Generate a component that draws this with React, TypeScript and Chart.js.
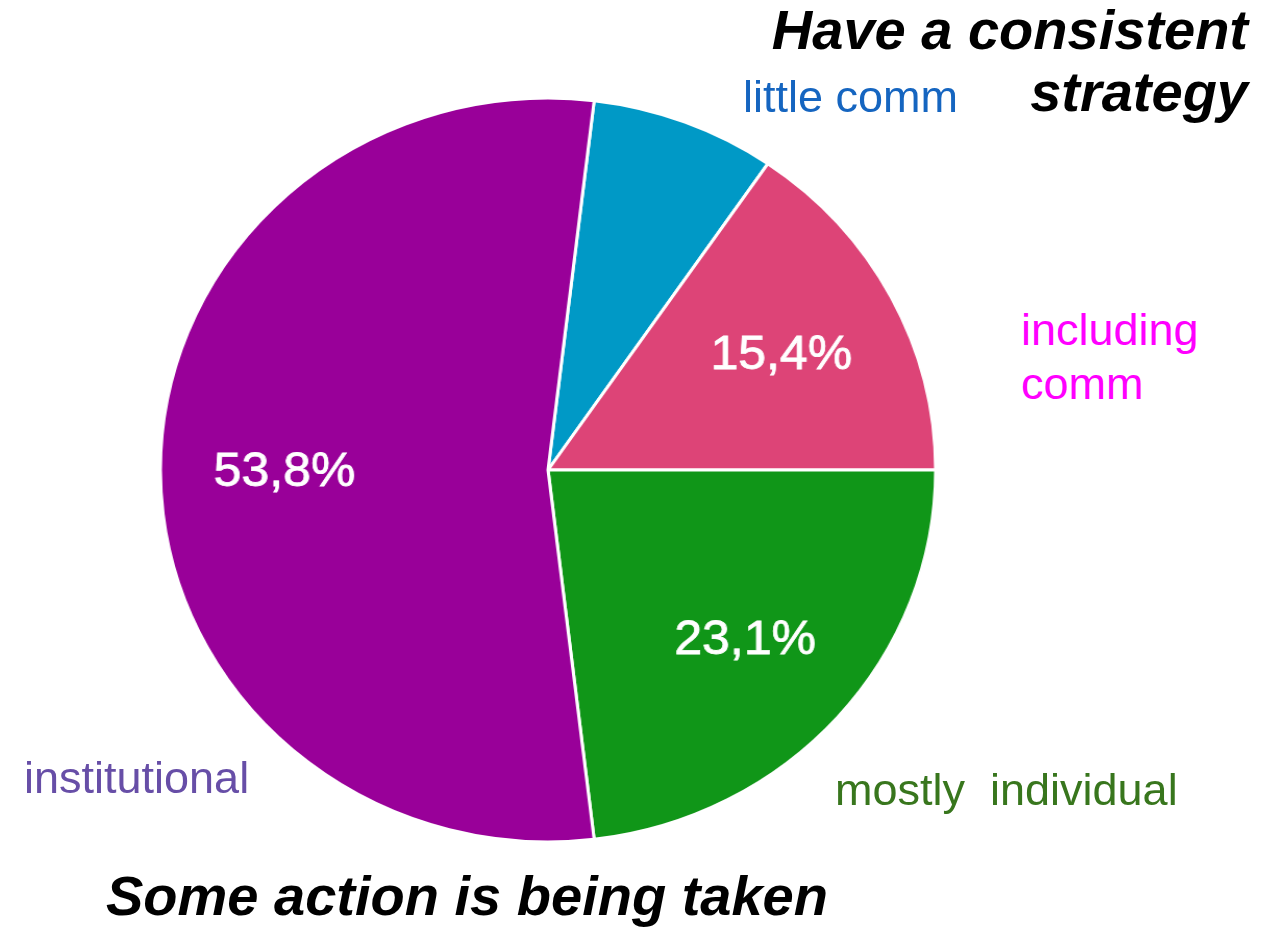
import React, { useEffect, useRef } from "react";
import { Chart, registerables } from "chart.js";

Chart.register(...registerables);

const categories = ["little comm", "including comm", "mostly  individual", "institutional"];
const shares = [7.7, 15.4, 23.1, 53.8];
const sliceColors = ["#0099c6", "#dd4477", "#109618", "#990099"];

const FONT = "'Liberation Sans', Arial, sans-serif";

const percentLabels = {
  id: "percentLabels",
  afterDatasetsDraw(chart: any) {
    const ctx = chart.ctx;
    const meta = chart.getDatasetMeta(0);
    const data = chart.data.datasets[0].data as number[];
    ctx.save();
    ctx.fillStyle = "#ffffff";
    ctx.strokeStyle = "#ffffff";
    ctx.lineWidth = 0.8;
    ctx.font = `48px ${FONT}`;
    ctx.textAlign = "center";
    ctx.textBaseline = "middle";
    meta.data.forEach((arc: any, i: number) => {
      const v = data[i];
      if (v < 10) return;
      const p = arc.getProps(["startAngle", "endAngle", "outerRadius", "x", "y"], true);
      const mid = (p.startAngle + p.endAngle) / 2;
      const r = p.outerRadius * 0.68;
      const txt = v.toFixed(1).replace(".", ",") + "%";
      const x = p.x + Math.cos(mid) * r;
      const y = p.y + Math.sin(mid) * r + 3;
      ctx.fillText(txt, x, y);
      ctx.strokeText(txt, x, y);
    });
    ctx.restore();
  },
};

function Label(props: { text: string; left?: number; right?: number; top: number; size: number; color: string; bold?: boolean }) {
  const style: React.CSSProperties = {
    position: "absolute",
    top: props.top,
    fontFamily: FONT,
    fontSize: props.size,
    lineHeight: `${props.size}px`,
    color: props.color,
    whiteSpace: "pre",
    fontWeight: props.bold ? "bold" : "normal",
    fontStyle: props.bold ? "italic" : "normal",
  };
  if (props.left !== undefined) style.left = props.left;
  if (props.right !== undefined) {
    style.right = props.right;
    style.textAlign = "right";
  }
  return <div style={style}>{props.text}</div>;
}

export default function App() {
  const ref = useRef<HTMLCanvasElement | null>(null);

  useEffect(() => {
    if (!ref.current) return;
    const startDeg = 90 - ((shares[0] + shares[1]) / 100) * 360;
    const chart = new Chart(ref.current, {
      type: "pie",
      data: {
        labels: categories,
        datasets: [
          {
            data: shares,
            backgroundColor: sliceColors,
            borderColor: "#ffffff",
            borderWidth: 3,
          },
        ],
      },
      options: {
        responsive: false,
        animation: false,
        rotation: startDeg,
        radius: 372,
        layout: { padding: 0 },
        plugins: {
          legend: { display: false },
          tooltip: { enabled: false },
          title: { display: false },
        },
      },
      plugins: [percentLabels],
    });
    return () => chart.destroy();
  }, []);

  return (
    <div
      style={{
        position: "fixed",
        left: 0,
        top: 0,
        width: 1271,
        height: 927,
        overflow: "hidden",
        background: "#ffffff",
      }}
    >
      <div
        style={{
          position: "absolute",
          left: 148,
          top: 70,
          width: 800,
          height: 800,
          transform: "scaleX(1.042)",
          transformOrigin: "400px 400px",
        }}
      >
        <canvas ref={ref} width={800} height={800} style={{ width: 800, height: 800, display: "block" }} />
      </div>
      <Label text="Have a consistent" right={23} top={2} size={56} color="#000000" bold />
      <Label text="strategy" right={23} top={64} size={56} color="#000000" bold />
      <Label text="little comm" left={743} top={74} size={45} color="#1565c0" />
      <Label text="including" left={1021} top={307} size={45} color="#ff00ff" />
      <Label text="comm" left={1021} top={361} size={45} color="#ff00ff" />
      <Label text="institutional" left={24} top={755} size={45} color="#674ea7" />
      <Label text={"mostly  individual"} left={835} top={767} size={45} color="#38761d" />
      <Label text="Some action is being taken" left={106} top={868} size={56} color="#000000" bold />
    </div>
  );
}
